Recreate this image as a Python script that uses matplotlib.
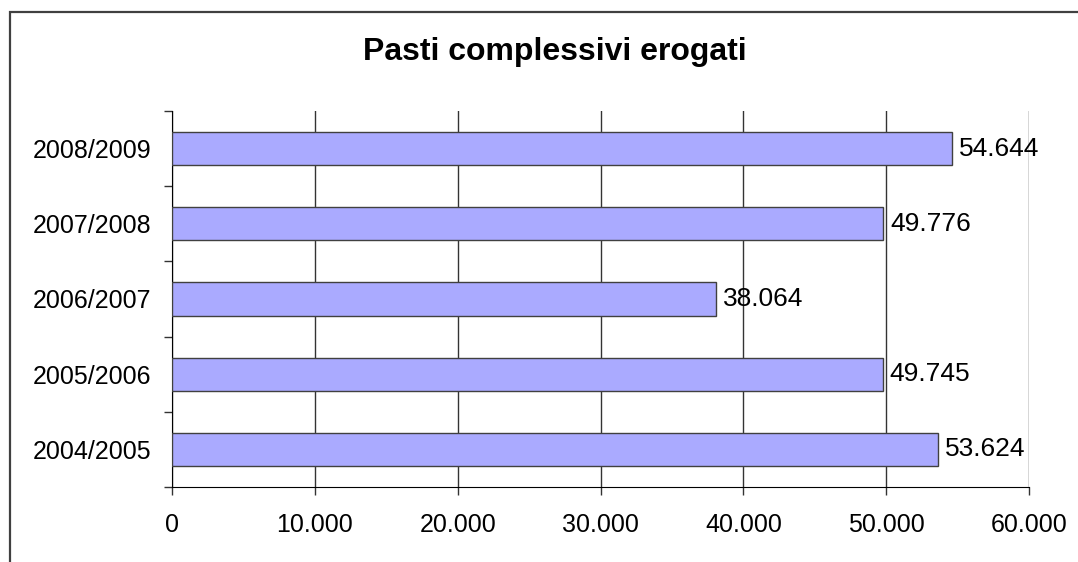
import matplotlib.pyplot as plt
from matplotlib.patches import Rectangle
from matplotlib.ticker import FuncFormatter, FixedLocator

years = ['2004/2005', '2005/2006', '2006/2007', '2007/2008', '2008/2009']
pasti = [53624, 49745, 38064, 49776, 54644]

plt.rcParams['font.family'] = ['Liberation Sans', 'DejaVu Sans']

fig = plt.figure(figsize=(10.78, 5.62), dpi=100)
ax = fig.add_axes([172 / 1078, 1 - 487 / 562, 857 / 1078, 376 / 562])

# outer chart frame (right and bottom edges fall outside the picture)
fig.patches.append(Rectangle((9.5 / 1078, -0.2), 1.2, 1 - 12 / 562 + 0.2,
                             transform=fig.transFigure, fill=False,
                             edgecolor='#404040', linewidth=1.6))

def thousands(v, pos=None):
    return f'{int(v):,}'.replace(',', '.')

pos = range(len(years))
bars = ax.barh(pos, pasti, height=0.44, color='#aaaaff', edgecolor='#404040', linewidth=1.0, zorder=3)
for y, v in zip(pos, pasti):
    ax.annotate(thousands(v), (v, y), xytext=(5, 0), textcoords='offset points',
                va='center', ha='left', fontsize=19, zorder=4)

ax.set_xlim(0, 60000)
ax.set_ylim(-0.5, len(years) - 0.5)
ax.set_xticks(range(0, 60001, 10000))
ax.xaxis.set_major_formatter(FuncFormatter(thousands))
ax.set_yticks(list(pos))
ax.set_yticklabels(years)
ax.yaxis.set_minor_locator(FixedLocator([i - 0.5 for i in range(len(years) + 1)]))

ax.grid(axis='x', color='#333333', linewidth=1.0, zorder=0)
ax.tick_params(axis='y', which='major', length=0, pad=15, labelsize=18)
ax.tick_params(axis='y', which='minor', length=6, width=1, color='#333333')
ax.tick_params(axis='x', length=6, width=1, color='#333333', pad=13, labelsize=18)

for s in ['top', 'right']:
    ax.spines[s].set_visible(False)
ax.spines['left'].set_color('black')
ax.spines['bottom'].set_color('black')

fig.text(555 / 1078, 1 - 52 / 562, 'Pasti complessivi erogati', ha='center', va='center',
         fontsize=23, fontweight='bold')

fig.savefig('out.png', dpi=100)
